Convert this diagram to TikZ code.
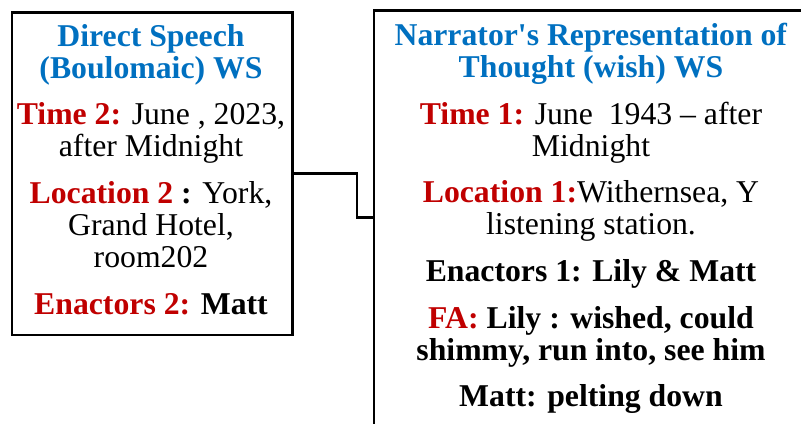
\documentclass[tikz,border=0pt]{standalone}
\usepackage{fontspec}
\setmainfont{Liberation Serif}[Ligatures=TeXOff]
\usepackage{xcolor}
\usepackage{tikz}
\usetikzlibrary{positioning}

\definecolor{wsblue}{RGB}{0,112,192}
\definecolor{wsred}{RGB}{192,0,0}

\newcommand{\wstitle}[1]{\textcolor{wsblue}{\textbf{#1}}}
\newcommand{\wslabel}[1]{\textcolor{wsred}{\textbf{#1}}}

\tikzset{
  wsbox/.style={draw, line width=2pt, inner sep=0pt},
  wstext/.style={align=center, inner sep=0pt, anchor=north,
    font=\fontsize{23.8}{24}\selectfont},
  link/.style={line width=1.8pt}
}

\begin{document}
\begin{tikzpicture}[x=0.75pt,y=0.75pt,yscale=-1]
\useasboundingbox (0,0) rectangle (801,424);
\clip (0,0) rectangle (801,424);

% world boxes
\node[wsbox, anchor=north west, minimum width=210.2pt, minimum height=241.9pt] (lws) at (10.7,11) {};
\node[wsbox, anchor=north west, minimum width=375pt, minimum height=340pt] (rws) at (372.5,9) {};

% left text world
\node[wstext] (ltext) at (151,24) {%
  \wstitle{Direct Speech}\\
  \wstitle{(Boulomaic) WS}\\[11pt]
  \wslabel{Time 2:} June , 2023,\\
  after Midnight\\[11pt]
  \wslabel{Location 2} \textbf{:} York,\\
  Grand Hotel,\\
  room202\\[11pt]
  \wslabel{Enactors 2:} \textbf{Matt}};

% right text world
\node[wstext] (rtext) at (591,23) {%
  \wstitle{Narrator's Representation of}\\
  \wstitle{Thought (wish) WS}\\[11pt]
  \wslabel{Time 1:} June\ \ 1943 – after\\
  Midnight\\[11pt]
  \wslabel{Location 1:}Withernsea, Y\\
  listening station.\\[11pt]
  \textbf{Enactors 1: Lily \& Matt}\\[11pt]
  \wslabel{FA:} \textbf{Lily : wished, could}\\
  \textbf{shimmy, run into, see him}\\[11pt]
  \textbf{Matt: pelting down}};

% connector between the worlds
\coordinate (bend) at (357,217.5);
\draw[link] (lws.east) -| (bend) -- (bend -| rws.west);

\end{tikzpicture}
\end{document}
